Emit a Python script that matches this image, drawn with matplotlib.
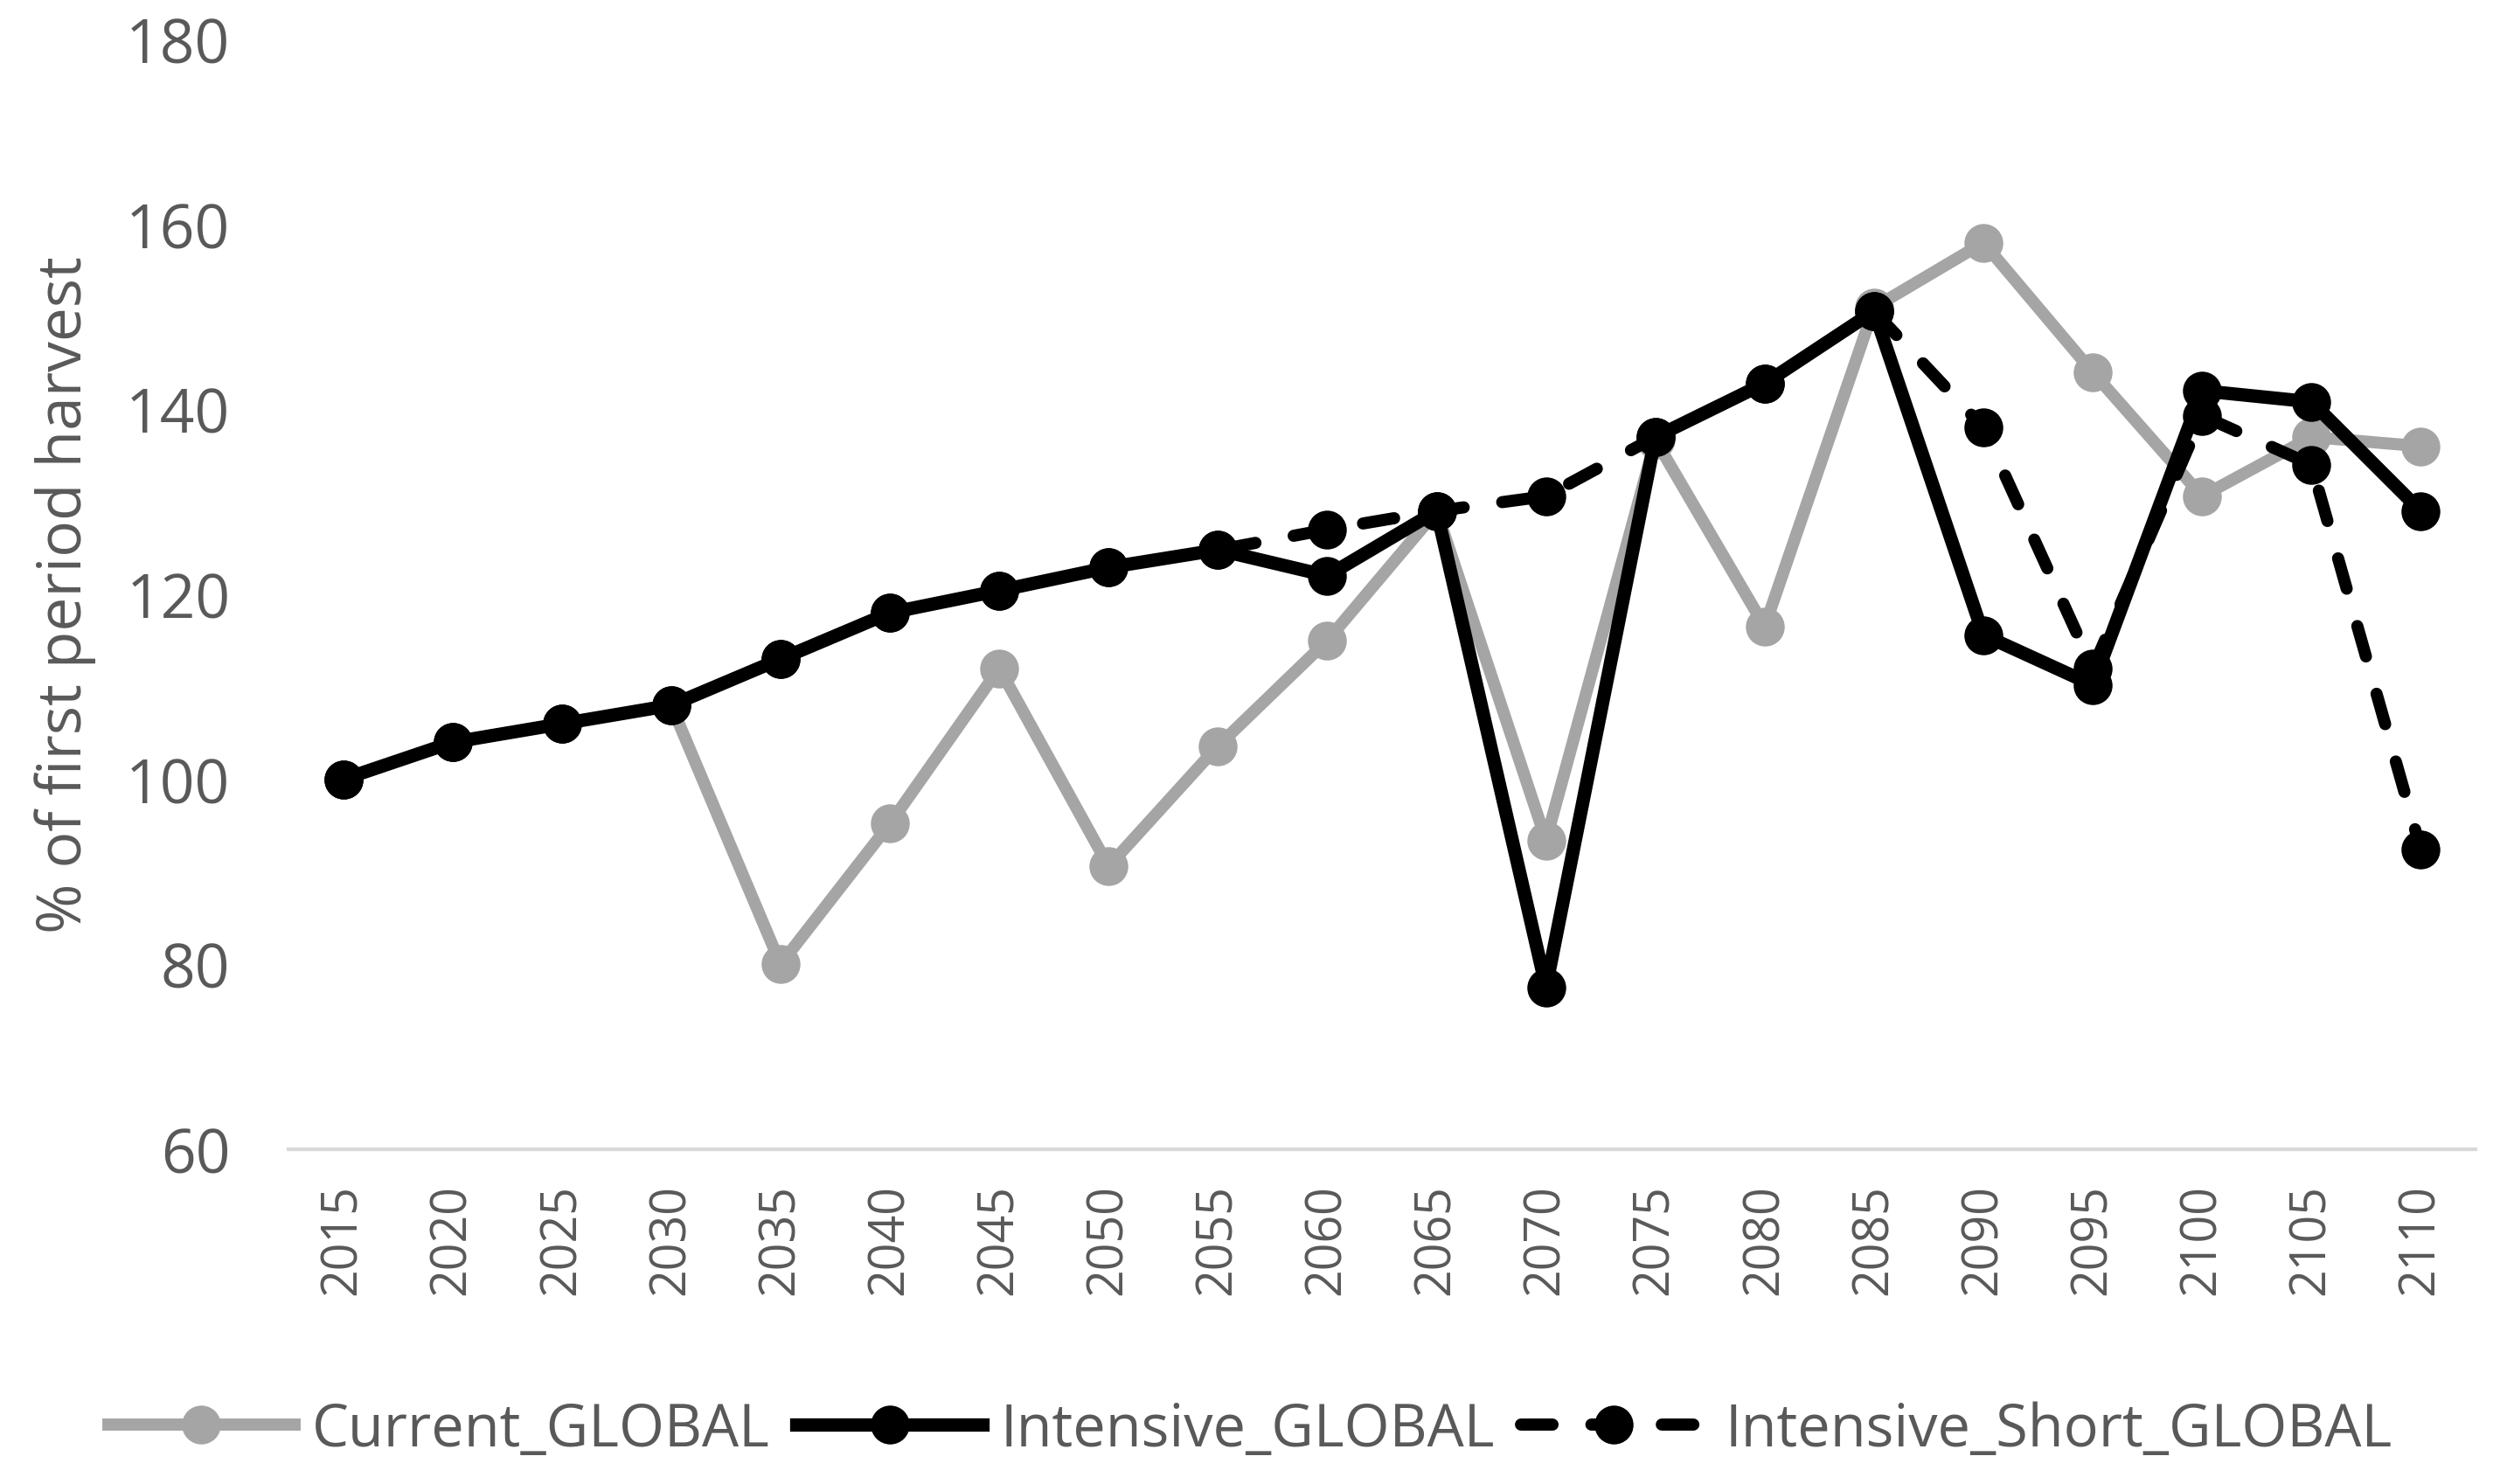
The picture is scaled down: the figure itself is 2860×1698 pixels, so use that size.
import matplotlib
matplotlib.use("Agg")
import matplotlib.pyplot as plt

plt.rcParams.update({
    "font.family": ["Open Sans", "DejaVu Sans"],
    "text.color": "#595959",
    "axes.labelcolor": "#595959",
    "xtick.color": "#595959",
    "ytick.color": "#595959",
})

GREY = "#A5A5A5"
BLACK = "#000000"

years = [2015, 2020, 2025, 2030, 2035, 2040, 2045, 2050, 2055, 2060,
         2065, 2070, 2075, 2080, 2085, 2090, 2095, 2100, 2105, 2110]
current = [100, 104, 106, 108, 80, 95.2, 112, 90.6, 103.6, 115,
           129, 93.4, 136.7, 116.5, 151, 158, 144, 130.6, 137, 136]
intensive = [100, 104, 106, 108, 113, 118, 120.4, 122.9, 124.8, 122,
             129, 77.5, 137, 142.8, 150.6, 115.6, 110.2, 142, 140.8, 129]
intensive_short = [100, 104, 106, 108, 113, 118, 120.4, 122.9, 124.8, 127,
                   129, 130.6, 137, 142.8, 150.6, 138, 112, 139.3, 134, 92.4]

fig = plt.figure(figsize=(14.3, 8.495), dpi=200)
ax = fig.add_axes([0.1154, 0.2254, 0.8748, 0.7476])
x = list(range(len(years)))

ax.plot(x, current, color=GREY, lw=5, marker="o", ms=15, label="Current_GLOBAL")
ax.plot(x, intensive, color=BLACK, lw=5.5, marker="o", ms=15, label="Intensive_GLOBAL")
ax.plot(x, intensive_short, color=BLACK, lw=5, marker="o", ms=15,
        ls=(0, (2.6, 3.2)), dash_capstyle="round", label="Intensive_Short_GLOBAL")

ax.set_xlim(-0.5, len(years) - 0.5)
ax.set_ylim(60, 180)
ax.set_yticks(range(60, 181, 20))
ax.set_xticks(x)
ax.set_xticklabels([str(y) for y in years], rotation=90)
ax.tick_params(axis="both", length=0)
ax.tick_params(axis="y", pad=24, labelsize=25)
ax.tick_params(axis="x", pad=14, labelsize=20)

for side in ["top", "right", "left"]:
    ax.spines[side].set_visible(False)
ax.spines["bottom"].set_color("#D9D9D9")
ax.spines["bottom"].set_linewidth(1.5)

ax.set_ylabel("% of first period harvest", fontsize=25)
ax.yaxis.set_label_coords(-0.088, 0.5)

fig.legend(loc="center", bbox_to_anchor=(0.5, 0.0365), ncol=3, frameon=False,
           fontsize=24, handlelength=3.2, handletextpad=0.3, columnspacing=0.45)

fig.savefig("out.png", dpi=200)
